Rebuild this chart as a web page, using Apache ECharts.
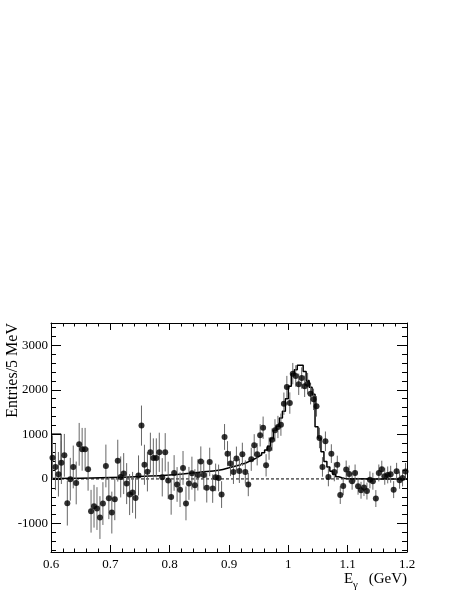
<!DOCTYPE html>
<html>
<head>
  <meta charset="utf-8">
  <title>E gamma spectrum</title>
  <style>
    html, body { margin: 0; padding: 0; background: #fff; }
    #chart { width: 463px; height: 599px; }
  </style>
  <script src="https://cdn.jsdelivr.net/npm/echarts@6/dist/echarts.min.js"></script>
</head>
<body>
  <div id="chart"></div>
  <script>
    // 5 MeV bins from 0.6 to 1.2 GeV
    var binStart = 0.6;
    var binWidth = 0.005;

    // measured entries per bin
    var entries = [
      478, 269, 105, 366, 530, -546, -7, 269, -90, 777,
      665, 665, 216, -725, -613, -665, -867, -553, 291, -433,
      -755, -456, 410, 45, 120, -105, -351, -302, -430, 78,
      1197, 318, 160, 598, 471, 471, 598, 37, 598, -33,
      -403, 134, -124, -240, 247, -549, -100, 130, -142, 90,
      390, 90, -200, 381, -217, 35, 22, -351, 942, 568,
      344, 157, 456, 179, 553, 157, -127, 441, 755, 553,
      979, 1150, 306, 680, 882, 1091, 1166, 1218, 1689, 2063,
      1703, 2363, 2311, 2124, 2266, 2079, 2139, 1913, 1786, 1629,
      919, 269, 845, 45, 568, 157, 321, -362, -160, 213,
      112, -52, 134, -164, -254, -194, -272, -20, -52, -440,
      134, 219, 59, 90, 105, -240, 171, -30, 22, 168
    ];

    // error bar half lengths
    var errors = [
      500, 520, 500, 480, 480, 500, 480, 480, 480, 480,
      480, 480, 480, 480, 480, 480, 480, 480, 480, 470,
      470, 470, 470, 460, 460, 460, 460, 460, 460, 450,
      450, 450, 440, 440, 440, 440, 440, 430, 430, 420,
      400, 400, 390, 390, 380, 380, 370, 370, 360, 350,
      340, 330, 330, 320, 320, 310, 300, 300, 290, 280,
      280, 270, 270, 270, 260, 260, 260, 260, 250, 250,
      250, 250, 250, 250, 250, 250, 250, 250, 250, 250,
      240, 240, 240, 240, 240, 240, 240, 240, 240, 230,
      230, 220, 220, 210, 210, 210, 200, 200, 200, 200,
      190, 190, 190, 190, 190, 190, 190, 190, 190, 190,
      190, 190, 190, 190, 190, 190, 190, 190, 190, 190
    ];

    // smooth fit curve, below and above the peak
    var fitLowX = [0.6, 0.65, 0.7, 0.75, 0.8, 0.85, 0.885, 0.9, 0.92];
    var fitLowY = [8, 18, 30, 55, 90, 150, 200, 250, 320];
    var fitHighX = [1.1, 1.15, 1.2];
    var fitHighY = [3, 0, 0];

    // fitted histogram across the peak, bins starting at 0.92 GeV
    var histStart = 0.92;
    var histValues = [
      340, 370, 400, 430, 460, 500, 540, 590, 650, 740,
      900, 1090, 1180, 1370, 1520, 1800, 2080, 2360, 2450, 2550,
      2550, 2410, 2210, 2060, 1900, 1170, 920, 610, 390, 270,
      170, 100, 50, 25, 10, 5
    ];

    // box drawn at the low edge
    var edgeBoxX = [0.6, 0.617, 0.617];
    var edgeBoxY = [1010, 1010, 10];

    var xTicks = { min: 0.6, max: 1.2, interval: 0.1 };
    var yRange = { min: -1640, max: 3500 };

    var points = entries.map(function (v, i) {
      return [+(binStart + (i + 0.5) * binWidth).toFixed(4), v];
    });
    var bars = entries.map(function (v, i) {
      return [+(binStart + (i + 0.5) * binWidth).toFixed(4), v - errors[i], v + errors[i]];
    });
    var hist = histValues.map(function (v, i) {
      return [+(histStart + i * binWidth).toFixed(4), v];
    });
    hist.push([+(histStart + histValues.length * binWidth).toFixed(4), histValues[histValues.length - 1]]);

    function zip(xs, ys) {
      return xs.map(function (x, i) { return [x, ys[i]]; });
    }

    var serif = '"Liberation Serif", "DejaVu Serif", serif';

    function xAxisDef(pos, labels) {
      return {
        type: 'value',
        position: pos,
        min: xTicks.min,
        max: xTicks.max,
        interval: xTicks.interval,
        axisLine: { show: true, onZero: false, lineStyle: { color: '#000', width: 1 } },
        axisTick: { show: true, inside: true, length: 7, lineStyle: { color: '#000' } },
        minorTick: { show: true, splitNumber: 5, length: 3.5, lineStyle: { color: '#000' } },
        splitLine: { show: false },
        axisLabel: { show: labels, color: '#000', fontFamily: serif, fontSize: 13, margin: 6 }
      };
    }

    function yAxisDef(pos, labels) {
      return {
        type: 'value',
        position: pos,
        min: yRange.min,
        max: yRange.max,
        splitNumber: 5,
        axisLine: { show: true, onZero: false, lineStyle: { color: '#000', width: 1 } },
        axisTick: { show: true, inside: true, length: 10, lineStyle: { color: '#000' } },
        minorTick: { show: true, splitNumber: 5, length: 5, lineStyle: { color: '#000' } },
        splitLine: { show: false },
        axisLabel: {
          show: labels, color: '#000', fontFamily: serif, fontSize: 13, margin: 3,
          showMinLabel: false, showMaxLabel: false,
          formatter: function (v) { return String(v); }
        }
      };
    }

    var chart = echarts.init(document.getElementById('chart'));
    chart.setOption({
      animation: false,
      backgroundColor: '#fff',
      grid: { left: 51, right: 56, top: 323, bottom: 47 },
      xAxis: [xAxisDef('bottom', true), xAxisDef('top', false)],
      yAxis: [yAxisDef('left', true), yAxisDef('right', false)],
      graphic: [
        {
          type: 'text', x: 13, y: 323, rotation: Math.PI / 2,
          style: { text: 'Entries/5 MeV', font: '16px ' + serif, fill: '#000', textAlign: 'right', textVerticalAlign: 'middle' }
        },
        {
          type: 'text', x: 344, y: 579,
          style: { text: 'E', font: '15px ' + serif, fill: '#000', textAlign: 'left', textVerticalAlign: 'middle' }
        },
        {
          type: 'text', x: 353, y: 585,
          style: { text: 'γ', font: '11px ' + serif, fill: '#000', textAlign: 'left', textVerticalAlign: 'middle' }
        },
        {
          type: 'text', x: 407, y: 579,
          style: { text: '(GeV)', font: '15px ' + serif, fill: '#000', textAlign: 'right', textVerticalAlign: 'middle' }
        }
      ],
      series: [
        {
          type: 'line',
          data: [[0.6, 0], [1.2, 0]],
          symbol: 'none',
          lineStyle: { color: '#000', width: 1, type: [3, 2] },
          z: 1
        },
        {
          type: 'line',
          data: zip(fitLowX, fitLowY),
          smooth: true,
          symbol: 'none',
          lineStyle: { color: '#000', width: 1.5 },
          z: 2
        },
        {
          type: 'line',
          data: zip(fitHighX, fitHighY),
          smooth: true,
          symbol: 'none',
          lineStyle: { color: '#000', width: 1.5 },
          z: 2
        },
        {
          type: 'line',
          data: hist,
          step: 'end',
          symbol: 'none',
          lineStyle: { color: '#000', width: 1.5 },
          z: 2
        },
        {
          type: 'line',
          data: zip(edgeBoxX, edgeBoxY),
          symbol: 'none',
          lineStyle: { color: '#000', width: 1 },
          z: 2
        },
        {
          type: 'custom',
          data: bars,
          encode: { x: 0, y: [1, 2] },
          renderItem: function (params, api) {
            var p1 = api.coord([api.value(0), api.value(1)]);
            var p2 = api.coord([api.value(0), api.value(2)]);
            return {
              type: 'line',
              shape: { x1: p1[0], y1: p1[1], x2: p2[0], y2: p2[1] },
              style: { stroke: '#666', lineWidth: 1 }
            };
          },
          z: 3
        },
        {
          type: 'scatter',
          data: points,
          symbol: 'circle',
          symbolSize: 6,
          itemStyle: { color: '#000' },
          z: 4
        }
      ]
    });
  </script>
</body>
</html>
